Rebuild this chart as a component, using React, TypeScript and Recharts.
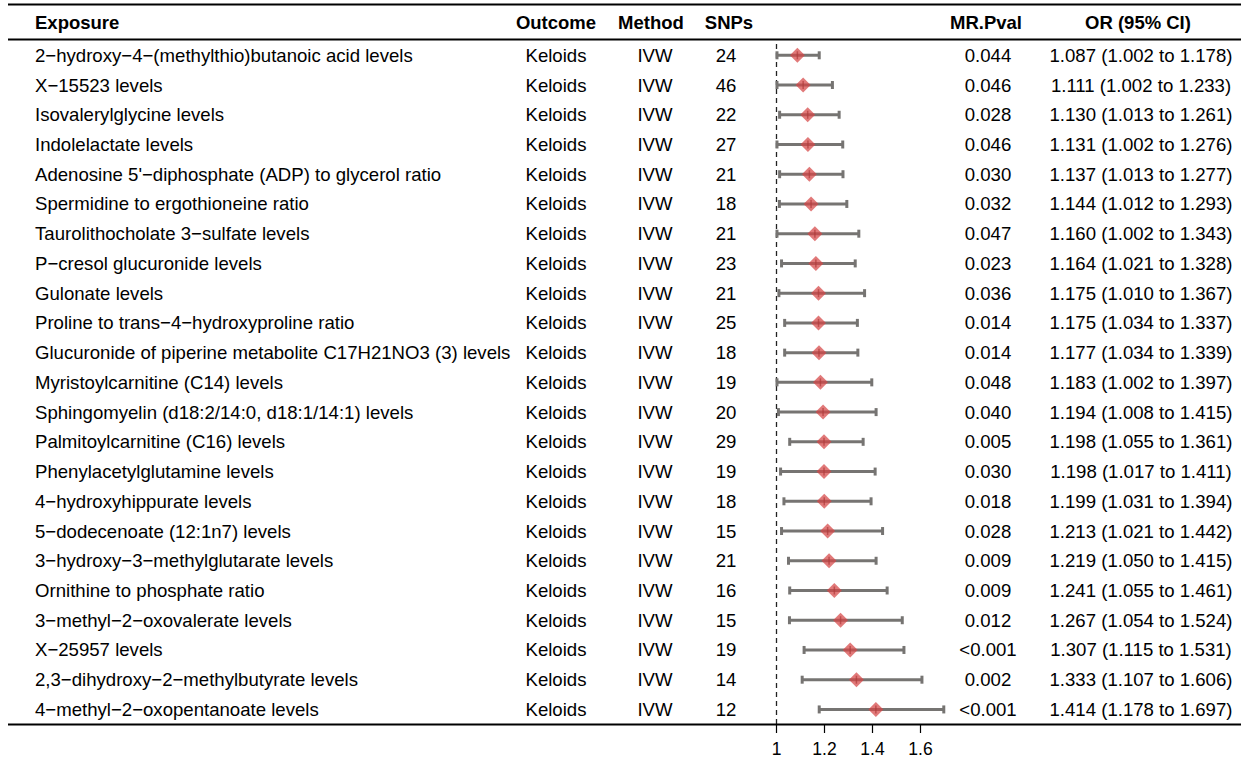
import React from "react";
import {
  ScatterChart,
  Scatter,
  XAxis,
  YAxis,
  ErrorBar,
  ReferenceLine,
} from "recharts";

const FONT = "'Liberation Sans', Arial, sans-serif";

const exposures = [
  "2\u2212hydroxy\u22124\u2212(methylthio)butanoic acid levels",
  "X\u221215523 levels",
  "Isovalerylglycine levels",
  "Indolelactate levels",
  "Adenosine 5'\u2212diphosphate (ADP) to glycerol ratio",
  "Spermidine to ergothioneine ratio",
  "Taurolithocholate 3\u2212sulfate levels",
  "P\u2212cresol glucuronide levels",
  "Gulonate levels",
  "Proline to trans\u22124\u2212hydroxyproline ratio",
  "Glucuronide of piperine metabolite C17H21NO3 (3) levels",
  "Myristoylcarnitine (C14) levels",
  "Sphingomyelin (d18:2/14:0, d18:1/14:1) levels",
  "Palmitoylcarnitine (C16) levels",
  "Phenylacetylglutamine levels",
  "4\u2212hydroxyhippurate levels",
  "5\u2212dodecenoate (12:1n7) levels",
  "3\u2212hydroxy\u22123\u2212methylglutarate levels",
  "Ornithine to phosphate ratio",
  "3\u2212methyl\u22122\u2212oxovalerate levels",
  "X\u221225957 levels",
  "2,3\u2212dihydroxy\u22122\u2212methylbutyrate levels",
  "4\u2212methyl\u22122\u2212oxopentanoate levels",
];
const outcome = "Keloids";
const method = "IVW";
const snps = [24, 46, 22, 27, 21, 18, 21, 23, 21, 25, 18, 19, 20, 29, 19, 18, 15, 21, 16, 15, 19, 14, 12];
const pvals = [
  "0.044", "0.046", "0.028", "0.046", "0.030", "0.032", "0.047", "0.023", "0.036", "0.014", "0.014", "0.048",
  "0.040", "0.005", "0.030", "0.018", "0.028", "0.009", "0.009", "0.012", "<0.001", "0.002", "<0.001",
];
const orValues = [
  1.087, 1.111, 1.13, 1.131, 1.137, 1.144, 1.16, 1.164, 1.175, 1.175, 1.177, 1.183,
  1.194, 1.198, 1.198, 1.199, 1.213, 1.219, 1.241, 1.267, 1.307, 1.333, 1.414,
];
const lower = [
  1.002, 1.002, 1.013, 1.002, 1.013, 1.012, 1.002, 1.021, 1.01, 1.034, 1.034, 1.002,
  1.008, 1.055, 1.017, 1.031, 1.021, 1.05, 1.055, 1.054, 1.115, 1.107, 1.178,
];
const upper = [
  1.178, 1.233, 1.261, 1.276, 1.277, 1.293, 1.343, 1.328, 1.367, 1.337, 1.339, 1.397,
  1.415, 1.361, 1.411, 1.394, 1.442, 1.415, 1.461, 1.524, 1.531, 1.606, 1.697,
];
const xTicks = [1, 1.2, 1.4, 1.6];

const rows = exposures.map((name, i) => ({
  row: i,
  or: orValues[i],
  err: [orValues[i] - lower[i], upper[i] - orValues[i]],
}));
const rowTicks = rows.map((r) => r.row);

// every text column of a row is drawn off the y scale of the row axis
function RowTick(props: any) {
  const { y, payload } = props;
  const i = payload.value;
  const common = { y, dy: "0.35em", fontSize: 18.6, fill: "#000", fontFamily: FONT };
  const ciText = `${orValues[i].toFixed(3)} (${lower[i].toFixed(3)} to ${upper[i].toFixed(3)})`;
  return (
    <g>
      <text {...common} x={35} textAnchor="start">{exposures[i]}</text>
      <text {...common} x={556} textAnchor="middle">{outcome}</text>
      <text {...common} x={655} textAnchor="middle">{method}</text>
      <text {...common} x={726} textAnchor="middle">{snps[i]}</text>
      <text {...common} x={988} textAnchor="middle">{pvals[i]}</text>
      <text {...common} x={1141} textAnchor="middle">{ciText}</text>
    </g>
  );
}

function Diamond(props: any) {
  const { cx, cy } = props;
  const r = 7.5;
  return (
    <g>
      <path
        d={`M${cx},${cy - r} L${cx + r},${cy} L${cx},${cy + r} L${cx - r},${cy} Z`}
        fill="#d64545"
        fillOpacity={0.72}
      />
      <line x1={cx} x2={cx} y1={cy - 4} y2={cy + 4} stroke="#b03a3a" strokeWidth={1.5} strokeOpacity={0.7} />
    </g>
  );
}

const headers = [
  { label: "Exposure", x: 35, anchor: "start" },
  { label: "Outcome", x: 556, anchor: "middle" },
  { label: "Method", x: 651, anchor: "middle" },
  { label: "SNPs", x: 729, anchor: "middle" },
  { label: "MR.Pval", x: 986, anchor: "middle" },
  { label: "OR (95% CI)", x: 1138, anchor: "middle" },
];

export default function App() {
  return (
    <div style={{ position: "absolute", left: 0, top: 0, width: 1241, height: 758, background: "#fff" }}>
      <ScatterChart
        width={1241}
        height={758}
        margin={{ top: 39.5, right: 290.5, bottom: 0, left: 0.5 }}
      >
        <XAxis
          type="number"
          dataKey="or"
          domain={[0.975, 1.725]}
          ticks={xTicks}
          height={34}
          axisLine={false}
          tickLine={{ stroke: "#000", strokeWidth: 1.2 }}
          tickSize={9}
          tickMargin={10}
          tick={{ fontSize: 17.5, fill: "#000", fontFamily: FONT }}
          tickFormatter={(v: number) => String(v)}
        />
        <YAxis
          type="number"
          dataKey="row"
          domain={[-0.531, 22.49]}
          reversed
          ticks={rowTicks}
          interval={0}
          width={770}
          axisLine={false}
          tickLine={false}
          tick={<RowTick />}
        />
        <ReferenceLine x={1} stroke="#222" strokeWidth={1.3} strokeDasharray="5 4" />
        <Scatter data={rows} shape={<Diamond />} isAnimationActive={false}>
          <ErrorBar dataKey="err" direction="x" width={4} stroke="#767472" strokeWidth={3} isAnimationActive={false} />
        </Scatter>
      </ScatterChart>
      {/* table rules and column headers */}
      <svg
        width={1241}
        height={758}
        style={{ position: "absolute", left: 0, top: 0, pointerEvents: "none" }}
      >
        <line x1={8} x2={1241} y1={4.5} y2={4.5} stroke="#000" strokeWidth={2.2} />
        <line x1={8} x2={1241} y1={39.5} y2={39.5} stroke="#000" strokeWidth={2.2} />
        <line x1={8} x2={1241} y1={724.5} y2={724.5} stroke="#000" strokeWidth={2.2} />
        {headers.map((h) => (
          <text
            key={h.label}
            x={h.x}
            y={23}
            dy="0.35em"
            textAnchor={h.anchor as any}
            fontSize={18.5}
            fontWeight="bold"
            fontFamily={FONT}
            fill="#000"
          >
            {h.label}
          </text>
        ))}
      </svg>
    </div>
  );
}
